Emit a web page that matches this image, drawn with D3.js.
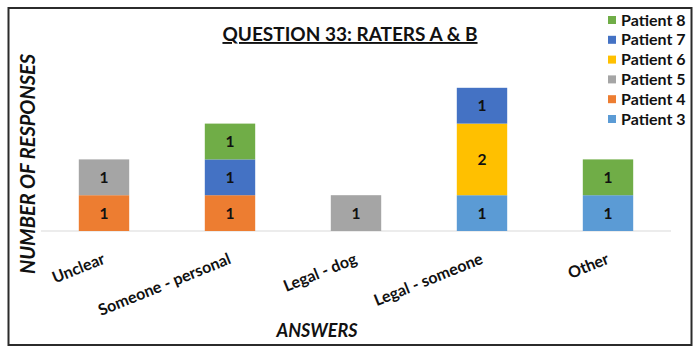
<!DOCTYPE html>
<html>
<head>
<meta charset="utf-8">
<script src="https://cdn.jsdelivr.net/npm/d3@7/dist/d3.min.js"></script>
<style>
  body { margin: 0; background: #fff; }
  svg { display: block; font-family: Lato, "Open Sans", sans-serif; }
</style>
</head>
<body>
<svg id="chart" width="700" height="354"></svg>
<script>
const categories = ["Unclear", "Someone - personal", "Legal - dog", "Legal - someone", "Other"];
const seriesNames = ["Patient 3", "Patient 4", "Patient 5", "Patient 6", "Patient 7", "Patient 8"];
const patient3 = [0, 0, 0, 1, 1];
const patient4 = [1, 1, 0, 0, 0];
const patient5 = [1, 0, 1, 0, 0];
const patient6 = [0, 0, 0, 2, 0];
const patient7 = [0, 1, 0, 1, 0];
const patient8 = [0, 1, 0, 0, 1];
const seriesColors = ["#5b9bd5", "#ed7d31", "#a5a5a5", "#ffc000", "#4472c4", "#70ad47"];

const seriesValues = [patient3, patient4, patient5, patient6, patient7, patient8];

const svg = d3.select("#chart");

// outer frame
svg.append("rect")
  .attr("x", 8.5).attr("y", 8)
  .attr("width", 683).attr("height", 337)
  .attr("fill", "none")
  .attr("stroke", "#2b2b2b")
  .attr("stroke-width", 2);

const margin = { left: 41, right: 29, top: 51, bottom: 123 };
const width = 700 - margin.left - margin.right;
const baseY = 354 - margin.bottom;

// build rows for stacking
const rows = categories.map((c, i) => {
  const r = { category: c };
  seriesNames.forEach((s, j) => { r[s] = seriesValues[j][i]; });
  return r;
});
const stacked = d3.stack().keys(seriesNames)(rows);

const x = d3.scaleBand()
  .domain(categories)
  .range([margin.left, margin.left + width])
  .paddingInner(0.6)
  .paddingOuter(0.3);

const y = d3.scaleLinear()
  .domain([0, 5])
  .range([baseY, baseY - 5 * 35.8]);

// baseline
svg.append("line")
  .attr("x1", margin.left).attr("x2", margin.left + width)
  .attr("y1", y(0)).attr("y2", y(0))
  .attr("stroke", "#d9d9d9")
  .attr("stroke-width", 1);

const layers = svg.selectAll(".layer")
  .data(stacked)
  .enter().append("g")
  .attr("class", "layer")
  .attr("fill", (d, i) => seriesColors[i]);

layers.selectAll("rect")
  .data(d => d.filter(s => s[1] - s[0] > 0))
  .enter().append("rect")
  .attr("x", d => x(d.data.category))
  .attr("width", x.bandwidth())
  .attr("y", d => y(d[1]))
  .attr("height", d => y(d[0]) - y(d[1]));

layers.selectAll("text")
  .data(d => d.filter(s => s[1] - s[0] > 0))
  .enter().append("text")
  .attr("x", d => x(d.data.category) + x.bandwidth() / 2)
  .attr("y", d => (y(d[0]) + y(d[1])) / 2 + 5.5)
  .attr("text-anchor", "middle")
  .attr("fill", "#111")
  .style("font-size", "15.5px")
  .style("font-weight", "bold")
  .text(d => d[1] - d[0]);

// category labels, rotated
svg.append("g").selectAll("text")
  .data(categories)
  .enter().append("text")
  .attr("transform", d => `translate(${x(d) + x.bandwidth() / 2 + 2},${263}) rotate(-22)`)
  .attr("text-anchor", "end")
  .attr("fill", "#111")
  .style("font-size", "16px")
  .style("font-weight", "bold")
  .text(d => d);

// title
svg.append("text")
  .attr("x", 350).attr("y", 41)
  .attr("text-anchor", "middle")
  .attr("fill", "#111")
  .style("font-size", "19px")
  .style("font-weight", "bold")
  .style("text-decoration", "underline")
  .text("QUESTION 33: RATERS A & B");

// axis titles
svg.append("text")
  .attr("transform", "translate(35,164) rotate(-90)")
  .attr("text-anchor", "middle")
  .attr("fill", "#111")
  .style("font-size", "20px")
  .style("font-weight", "bold")
  .style("font-style", "italic")
  .text("NUMBER OF RESPONSES");

svg.append("text")
  .attr("x", 317).attr("y", 337)
  .attr("text-anchor", "middle")
  .attr("fill", "#111")
  .style("font-size", "18px")
  .style("font-weight", "bold")
  .style("font-style", "italic")
  .text("ANSWERS");

// legend, top entry is last series
const legendItems = seriesNames.map((s, i) => ({ name: s, color: seriesColors[i] })).reverse();
const legend = svg.append("g").selectAll("g")
  .data(legendItems)
  .enter().append("g")
  .attr("transform", (d, i) => `translate(608,${20 + i * 19.8})`);

legend.append("rect")
  .attr("x", 0).attr("y", -4)
  .attr("width", 8).attr("height", 8)
  .attr("fill", d => d.color);

legend.append("text")
  .attr("x", 13).attr("y", 5.5)
  .attr("fill", "#111")
  .style("font-size", "16px")
  .style("font-weight", "bold")
  .text(d => d.name);
</script>
</body>
</html>
